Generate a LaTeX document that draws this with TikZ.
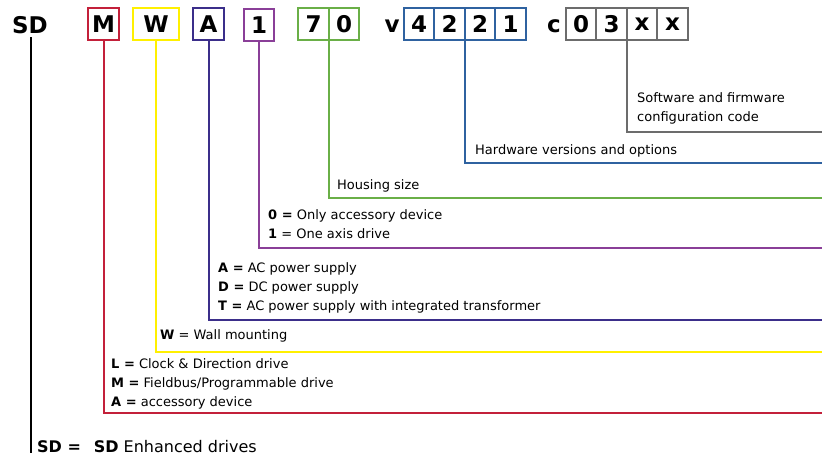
\documentclass[tikz,border=0pt]{standalone}
\usepackage{fontspec}
\setmainfont{DejaVu Sans}
\usetikzlibrary{positioning}
\definecolor{codered}{HTML}{C3203A}
\definecolor{codeyellow}{HTML}{FFF000}
\definecolor{codeindigo}{HTML}{3B2E8A}
\definecolor{codepurple}{HTML}{8A3F98}
\definecolor{codegreen}{HTML}{6AAF47}
\definecolor{codeblue}{HTML}{2F62A0}
\definecolor{codegray}{HTML}{6C6C6C}
\tikzstyle{cell}=[draw,line width=2pt,minimum width=30.5pt,minimum height=32pt,inner sep=0,outer sep=0,font=\fontsize{23}{23}\selectfont\bfseries]
\tikzstyle{lead}=[line width=2pt]
\tikzstyle{desc}=[anchor=west,align=left,inner sep=0,font=\fontsize{13}{19}\selectfont]

\begin{document}
\begin{tikzpicture}[x=1pt,y=-1pt]

      \useasboundingbox (0,0) rectangle (822,457);

      % code letters
      \node[font=\fontsize{23}{23}\selectfont\bfseries] (sd) at (30,25) {SD};
      \node[cell, draw=codered] (box_m) at (103.5,24) {M};
      \node[cell, draw=codeyellow, minimum width=46pt] (box_w) at (156,24) {W};
      \node[cell, draw=codeindigo] (box_a) at (208.5,24) {A};
      \node[cell, draw=codepurple] (box_1) at (259,25) {1};

      \node[cell, draw=codegreen] (box_7) at (313.5,24) {7};
      \node[cell, draw=codegreen, right=0pt of box_7] (box_0) {0};

      \node[font=\fontsize{23}{23}\selectfont\bfseries] (v) at (392,26.5) {v};
      \node[cell, draw=codeblue] (box_4) at (419,24) {4};
      \node[cell, draw=codeblue, right=0pt of box_4] (box_2a) {2};
      \node[cell, draw=codeblue, right=0pt of box_2a] (box_2b) {2};
      \node[cell, draw=codeblue, right=0pt of box_2b] (box_1b) {1};

      \node[font=\fontsize{23}{23}\selectfont\bfseries] (c) at (554,26.5) {c};
      \node[cell, draw=codegray] (box_c0) at (581,24) {0};
      \node[cell, draw=codegray, right=0pt of box_c0] (box_c3) {3};
      \node[cell, draw=codegray, right=0pt of box_c3] (box_cx1) {x};
      \node[cell, draw=codegray, right=0pt of box_cx1] (box_cx2) {x};

      % right ends of the leads
      \coordinate (end_gray) at (822,132);
      \coordinate (end_blue) at (822,163);
      \coordinate (end_green) at (822,198);
      \coordinate (end_purple) at (822,248);
      \coordinate (end_indigo) at (822,320);
      \coordinate (end_yellow) at (822,352);
      \coordinate (end_red) at (822,413);
      \coordinate (sd_bottom) at (31,453);

      \draw[lead, codegray] (box_c3.south east) |- (end_gray);
      \draw[lead, codeblue] (box_2a.south east) |- (end_blue);
      \draw[lead, codegreen] (box_7.south east) |- (end_green);
      \draw[lead, codepurple] (box_1.south) |- (end_purple);
      \draw[lead, codeindigo] (box_a.south) |- (end_indigo);
      \draw[lead, codeyellow] (box_w.south) |- (end_yellow);
      \draw[lead, codered] (box_m.south) |- (end_red);
      \draw[line width=2.5pt] (sd.south -| sd_bottom) -- (sd_bottom);

      % descriptions
      \node[desc] (desc_sw) at (637,108.5) {Software and firmware\\configuration code};
      \node[desc] (desc_hw) at (475,151) {Hardware versions and options};
      \node[desc] (desc_housing) at (337,186) {Housing size};
      \node[desc] (desc_axis) at (268,224.5) {\textbf{0 =} Only accessory device\\\textbf{1} = One axis drive};
      \node[desc] (desc_supply) at (218,288) {\textbf{A =} AC power supply\\\textbf{D =} DC power supply\\\textbf{T =} AC power supply with integrated transformer};
      \node[desc] (desc_mount) at (160,336) {\textbf{W} = Wall mounting};
      \node[desc] (desc_drive) at (111,384) {\textbf{L =} Clock \& Direction drive\\\textbf{M =} Fieldbus/Programmable drive\\\textbf{A =} accessory device};
      \node[desc, font=\fontsize{16}{16}\selectfont] (desc_sd) at (37,446.5) {\textbf{SD =}\hspace{0.8em}\textbf{SD} Enhanced drives};

\end{tikzpicture}
\end{document}
